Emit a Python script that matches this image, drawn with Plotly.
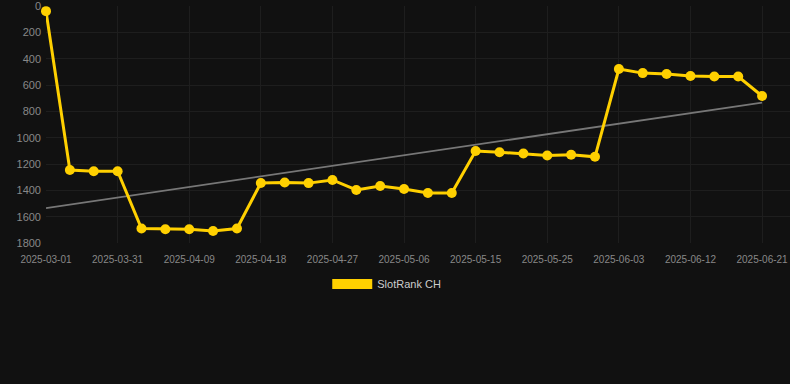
import numpy as np
import plotly.graph_objects as go

dates = ["2025-03-01", "2025-03-11", "2025-03-21", "2025-03-31", "2025-04-03", "2025-04-06",
         "2025-04-09", "2025-04-12", "2025-04-15", "2025-04-18", "2025-04-21", "2025-04-24",
         "2025-04-27", "2025-04-30", "2025-05-03", "2025-05-06", "2025-05-09", "2025-05-12",
         "2025-05-15", "2025-05-18", "2025-05-21", "2025-05-25", "2025-05-28", "2025-05-31",
         "2025-06-03", "2025-06-06", "2025-06-09", "2025-06-12", "2025-06-15", "2025-06-18",
         "2025-06-21"]
ranks = [38, 1245, 1255, 1255, 1690, 1695, 1695, 1709, 1690, 1344, 1340, 1345, 1321, 1397,
         1367, 1390, 1420, 1420, 1101, 1110, 1120, 1135, 1130, 1145, 478, 509, 516, 531, 535,
         535, 683]
tick_labels = dates[::3]
y_ticks = [0, 200, 400, 600, 800, 1000, 1200, 1400, 1600, 1800]
series_name = "SlotRank CH"

gold = "#FFD000"
idx = np.arange(len(ranks))
slope, intercept = np.polyfit(idx, ranks, 1)
trend = [intercept, intercept + slope * idx[-1]]

fig = go.Figure()
fig.add_trace(go.Scatter(
    x=[dates[0], dates[-1]], y=trend, mode="lines",
    line=dict(color="#777777", width=1.8), showlegend=False, hoverinfo="skip"))
fig.add_trace(go.Scatter(
    x=dates, y=ranks, mode="lines+markers", name=series_name,
    line=dict(color=gold, width=3), marker=dict(color=gold, size=10),
    cliponaxis=False, showlegend=False))
fig.add_trace(go.Scatter(
    x=[None], y=[None], mode="lines", name=series_name,
    line=dict(color=gold, width=12), showlegend=True))

fig.update_layout(
    width=790, height=384,
    paper_bgcolor="#111111", plot_bgcolor="#111111",
    margin=dict(l=46, r=0, t=6, b=141),
    font=dict(family="Liberation Sans, Arial, sans-serif", color="#888888"),
    showlegend=True,
    legend=dict(orientation="h", x=0.458, xanchor="center", y=-0.173, yanchor="middle",
                font=dict(size=11, color="#cccccc"), itemwidth=40,
                bgcolor="rgba(0,0,0,0)"),
)
fig.update_xaxes(
    type="category", categoryorder="array", categoryarray=dates,
    range=[0, 31.17], tickvals=tick_labels, ticktext=tick_labels,
    showgrid=True, gridcolor="#1e1e1e", gridwidth=1, zeroline=False,
    showline=False, tickfont=dict(size=10, color="#888888"), ticks="",
    ticklabelstandoff=9, ticklabeloverflow="allow")
fig.update_yaxes(
    range=[1800, -1], tickvals=y_ticks, showgrid=True, gridcolor="#1e1e1e",
    zeroline=False, showline=False, tickfont=dict(size=11, color="#888888"),
    ticks="", ticklabelstandoff=4, ticklabeloverflow="allow")

fig.write_html(
    "out.html",
    config={"displayModeBar": False},
    post_script="document.body.style.margin='0';document.body.style.background='#111111';")
